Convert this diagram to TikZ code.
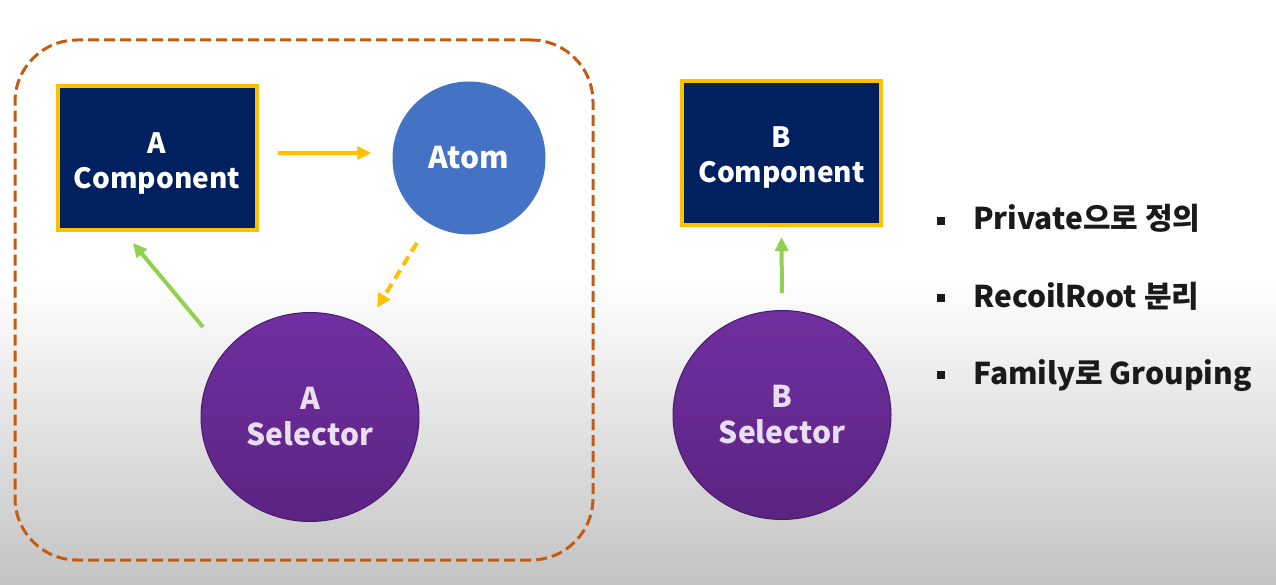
\documentclass[tikz,border=0pt]{standalone}
\usepackage{fontspec}
\setmainfont{Noto Sans CJK KR}
\usetikzlibrary{shapes.geometric,arrows.meta,calc}
\definecolor{navy}{HTML}{002060}
\definecolor{gold}{HTML}{FFC000}
\definecolor{atomblue}{HTML}{4472C4}
\definecolor{purtop}{HTML}{7030A0}
\definecolor{purbot}{HTML}{5B2382}
\definecolor{purline}{HTML}{4A1A6C}
\definecolor{leaf}{HTML}{92D050}
\definecolor{rust}{HTML}{C55A11}
\definecolor{lav}{HTML}{E8DEF0}
\definecolor{bgbot}{HTML}{C3C3C3}
\definecolor{ink}{HTML}{1A1A1A}
\tikzset{
  lbl/.style={font=\bfseries\fontsize{30}{36}\selectfont, align=center},
  compbox/.style={font=\bfseries\fontsize{28}{35}\selectfont, align=center,
    rectangle, draw=gold, line width=4pt, fill=navy, text=white,
    minimum width=199pt, minimum height=144pt, inner sep=0pt},
  atomnode/.style={lbl, circle, fill=atomblue, text=white, minimum size=153pt, inner sep=0pt},
  selnode/.style={lbl, ellipse, top color=purtop, bottom color=purbot, draw=purline, line width=1pt,
    text=lav, minimum width=218pt, minimum height=209pt, inner sep=0pt},
  frame/.style={rectangle, draw=rust, line width=3pt, dash pattern=on 11pt off 5pt,
    rounded corners=62pt, minimum width=578pt, minimum height=520pt, inner sep=0pt},
  flow/.style={line width=4pt, -{Triangle[length=14pt,width=13pt]}},
  bulletitem/.style={font=\bfseries\fontsize{30}{36}\selectfont, text=ink, anchor=base west, inner sep=0pt},
}
\begin{document}
\begin{tikzpicture}[x=1pt,y=-1pt]
\useasboundingbox (0,0) rectangle (1276,585);
\fill[white] (0,0) rectangle (1276,585);
\shade[top color=white, bottom color=bgbot] (0,280) rectangle (1276,585);

\node[frame] (frame) at (304,300) {};

\node[compbox] (A) at (157,158) {\rule{0pt}{31pt}A\\Component};
\node[atomnode] (Atom) at (469,158) {Atom};
\node[selnode] (ASel) at (310,417) {A\\Selector};

\node[compbox] (B) at (781.5,153) {\rule{0pt}{29pt}B\\Component};
\node[selnode] (BSel) at (782,415) {B\\Selector};

\draw[flow, draw=gold, shorten <=19pt, shorten >=21pt]
  ([yshift=5pt]A.east) -- ([yshift=5pt]Atom.west);
\draw[flow, draw=gold, dashed, dash pattern=on 10pt off 6pt, shorten <=23pt, shorten >=22pt]
  (Atom) -- (ASel);
\draw[flow, draw=leaf] ($(ASel)+(-107,-90)$) -- ($(A.south)+(-24,11)$);
\draw[flow, draw=leaf, shorten <=17pt, shorten >=10pt] (BSel.north) -- (B.south);

\fill[ink] (937,217) rectangle (945,225);
\node[bulletitem] (t1) at (973,230) {Private으로 정의};
\fill[ink] (937,294) rectangle (945,302);
\node[bulletitem] (t2) at (973,307) {RecoilRoot 분리};
\fill[ink] (937,371) rectangle (945,379);
\node[bulletitem] (t3) at (973,384) {Family로 Grouping};
\end{tikzpicture}
\end{document}
